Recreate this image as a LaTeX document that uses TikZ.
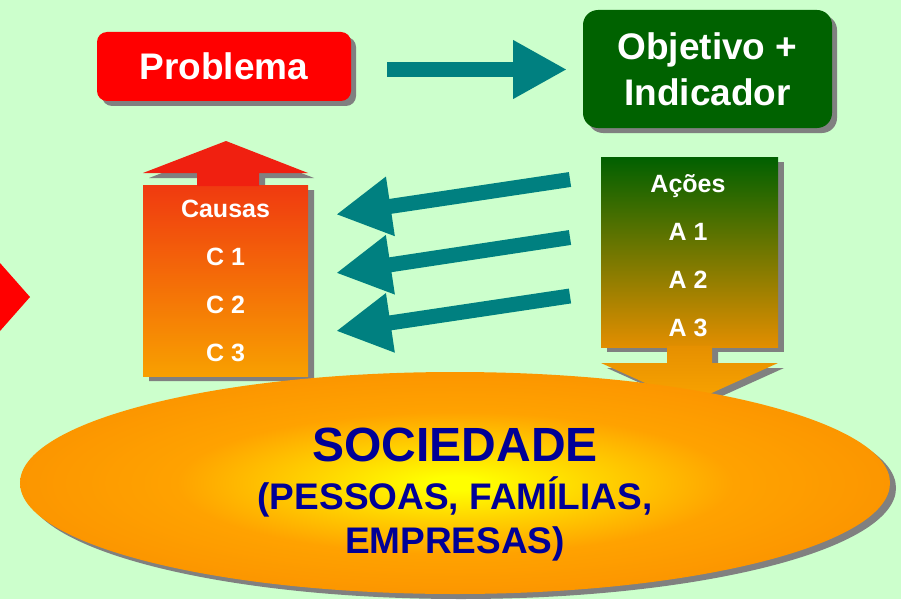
\documentclass[tikz,border=0pt]{standalone}
\usepackage{fontspec}
\setmainfont{Liberation Sans}
\usetikzlibrary{arrows.meta,shapes.geometric}
\definecolor{bgc}{RGB}{204,255,204}
\definecolor{probred}{RGB}{255,0,0}
\definecolor{objgreen}{RGB}{0,98,0}
\definecolor{tealc}{RGB}{0,128,128}
\definecolor{shadowc}{RGB}{128,128,128}
\definecolor{navyc}{RGB}{0,0,150}
\definecolor{chead}{RGB}{240,32,16}
\definecolor{ctop}{RGB}{240,58,16}
\definecolor{cbot}{RGB}{248,160,0}
\definecolor{atop}{RGB}{0,96,0}
\definecolor{abot}{RGB}{226,142,0}
\definecolor{htop}{RGB}{230,144,0}
\definecolor{hbot}{RGB}{250,164,0}
\definecolor{ecen}{RGB}{255,255,0}
\definecolor{emid}{RGB}{255,212,0}
\definecolor{eout}{RGB}{255,162,0}
\definecolor{eedge}{RGB}{252,150,0}
\pgfdeclareverticalshading{causasgrad}{100bp}{color(0bp)=(cbot); color(25bp)=(cbot); color(75bp)=(ctop); color(100bp)=(ctop)}
\pgfdeclareverticalshading{acoesgrad}{100bp}{color(0bp)=(abot); color(25bp)=(abot); color(75bp)=(atop); color(100bp)=(atop)}
\pgfdeclareverticalshading{headgrad}{100bp}{color(0bp)=(hbot); color(25bp)=(hbot); color(75bp)=(htop); color(100bp)=(htop)}
\pgfdeclareradialshading{socgrad}{\pgfpoint{0bp}{0bp}}{color(0bp)=(ecen); color(1.5bp)=(ecen); color(8bp)=(emid); color(16bp)=(eout); color(25bp)=(eedge); color(50bp)=(eedge)}
\begin{document}
\begin{tikzpicture}[x=1pt,y=-1pt,
  probbox/.style={fill=probred, rounded corners=10pt, minimum width=254pt, minimum height=69pt,
    inner sep=0pt, text=white, font=\bfseries\fontsize{37}{46}\selectfont},
  objbox/.style={fill=objgreen, rounded corners=15pt, minimum width=249pt, minimum height=118pt,
    inner sep=0pt, align=center, text=white, font=\bfseries\fontsize{37}{46}\selectfont},
  colbox/.style={inner sep=0pt, shade},
  listtext/.style={anchor=base, inner sep=0pt, text=white, font=\bfseries\fontsize{25}{30}\selectfont},
  fatarrow/.style={draw=tealc, line width=15pt, -{Triangle[length=55pt,width=56pt]}},
  soctitle/.style={anchor=base, inner sep=0pt, text=navyc, font=\bfseries\fontsize{48}{50}\selectfont},
  socsub/.style={anchor=base, inner sep=0pt, text=navyc, font=\bfseries\fontsize{37}{40}\selectfont},
  shadowfill/.style={fill=shadowc}]
\fill[bgc] (0,0) rectangle (901,599);
\useasboundingbox (0,0) rectangle (901,599);
% partial red arrow at left edge
\fill[probred] (0,263) -- (30,297) -- (0,331) -- cycle;
% shadows
\begin{scope}[shift={(5,5)}]
  \fill[shadowfill, rounded corners=10pt] (97,32) rectangle (351,101);
  \fill[shadowfill, rounded corners=15pt] (583,10) rectangle (832,128);
\end{scope}
\begin{scope}[shift={(6,5)}]
  \fill[shadowfill] (226,141) -- (308,173) -- (259,173) -- (259,185) -- (308,185) -- (308,376)
     -- (143,376) -- (143,185) -- (197,185) -- (197,173) -- (143,173) -- cycle;
  \fill[shadowfill] (601,157) rectangle (778,347);
  \fill[shadowfill] (667,347) -- (667,363) -- (601,363) -- (689.5,403) -- (778,363) -- (712,363) -- (712,347) -- cycle;
\end{scope}
% top boxes
\node[probbox] (prob) at (224,66.5) {Problema};
\node[objbox] (obj) at (707.5,69) {Objetivo +\\Indicador};
\coordinate (h1s) at (387,69.5);
\coordinate (h1e) at (567,69.5);
\draw[fatarrow, -{Triangle[length=54pt,width=55pt]}] (h1s) -- (h1e);
% Causas block arrow
\node[colbox, shading=causasgrad, minimum width=165pt, minimum height=191pt] (causas) at (225.5,280.5) {};
\fill[chead] (226,141) -- (308,173) -- (259,173) -- (259,186) -- (197,186) -- (197,173) -- (143,173) -- cycle;
\node[listtext] (c0) at (225.5,217) {Causas};
\node[listtext] (c1) at (225.5,265) {C 1};
\node[listtext] (c2) at (225.5,313) {C 2};
\node[listtext] (c3) at (225.5,361) {C 3};
% Acoes block arrow
\node[colbox, shading=acoesgrad, minimum width=177pt, minimum height=190pt] (acoes) at (689.5,252) {};
\shade[shading=headgrad] (667,346) -- (667,363) -- (601,363) -- (689.5,403) -- (778,363) -- (712,363) -- (712,346) -- cycle;
\node[listtext] (a0) at (688,192) {Ações};
\node[listtext] (a1) at (688,240) {A 1};
\node[listtext] (a2) at (688,288) {A 2};
\node[listtext] (a3) at (688,336) {A 3};
% arrows from actions to causes
\coordinate (t1s) at (570,179.5);
\coordinate (t1e) at (336,214.5);
\coordinate (t2s) at (570,237.5);
\coordinate (t2e) at (336,273);
\coordinate (t3s) at (570,296);
\coordinate (t3e) at (336,331);
\draw[fatarrow] (t1s) -- (t1e);
\draw[fatarrow] (t2s) -- (t2e);
\draw[fatarrow] (t3s) -- (t3e);
% society ellipse
\fill[shadowfill] (461,488) ellipse [x radius=435pt, y radius=111pt];
\node[ellipse, shade, shading=socgrad, inner sep=0pt, minimum width=870pt, minimum height=222pt] (soc) at (455,483) {};
\node[soctitle] (s1) at (455,461) {SOCIEDADE};
\node[socsub] (s2) at (455,509) {(PESSOAS, FAMÍLIAS,};
\node[socsub] (s3) at (455,553) {EMPRESAS)};
\end{tikzpicture}
\end{document}
